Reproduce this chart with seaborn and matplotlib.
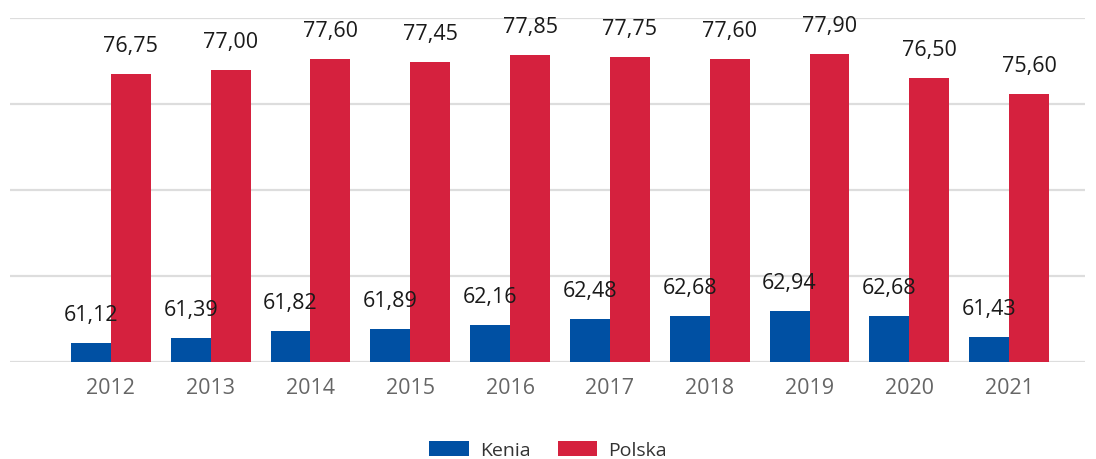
import matplotlib
matplotlib.use("Agg")
import matplotlib.pyplot as plt
import seaborn as sns
import pandas as pd

years = ["2012", "2013", "2014", "2015", "2016", "2017", "2018", "2019", "2020", "2021"]
kenia = [61.12, 61.39, 61.82, 61.89, 62.16, 62.48, 62.68, 62.94, 62.68, 61.43]
polska = [76.75, 77.00, 77.60, 77.45, 77.85, 77.75, 77.60, 77.90, 76.50, 75.60]
series = ["Kenia", "Polska"]
colors = ["#0050A3", "#D5213E"]

df = pd.DataFrame({
    "year": years * 2,
    "value": kenia + polska,
    "series": [series[0]] * len(years) + [series[1]] * len(years),
})

sns.set_theme(style="white")
plt.rcParams["font.family"] = ["Open Sans", "DejaVu Sans"]

fig = plt.figure(figsize=(10.96, 4.6), dpi=100)
ax = fig.add_axes([10 / 1096, (460 - 363) / 460, (1085 - 10) / 1096, (363 - 19) / 460])

sns.barplot(data=df, x="year", y="value", hue="series", palette=colors,
            width=0.8, saturation=1, ax=ax, legend=True, linewidth=0)

ax.set_ylim(60, 80)
ax.set_xlim(-1.01, 9.76)
ax.set_yticks([60, 65, 70, 75, 80])
ax.yaxis.grid(True, color="#dddddd", linewidth=1.6)
ax.set_axisbelow(True)
ax.tick_params(axis="y", left=False, labelleft=False)
ax.tick_params(axis="x", bottom=False, labelsize=15.5, labelcolor="#666666", pad=5)
ax.set_xlabel("")
ax.set_ylabel("")
for s in ax.spines.values():
    s.set_visible(False)

for cont, vals in zip(ax.containers, [kenia, polska]):
    ax.bar_label(cont, labels=[f"{v:.2f}".replace(".", ",") for v in vals],
                 padding=13, fontsize=15.5, color="#1a1a1a")

handles, labels = ax.get_legend_handles_labels()
ax.get_legend().remove()
fig.legend(handles, labels, loc="center", bbox_to_anchor=(0.5, 1 - 451 / 460), ncol=2,
           frameon=False, fontsize=14, handlelength=2.05, handleheight=0.85,
           columnspacing=1.4, handletextpad=0.55, labelcolor="#333333")

fig.savefig("out.png", dpi=100)
